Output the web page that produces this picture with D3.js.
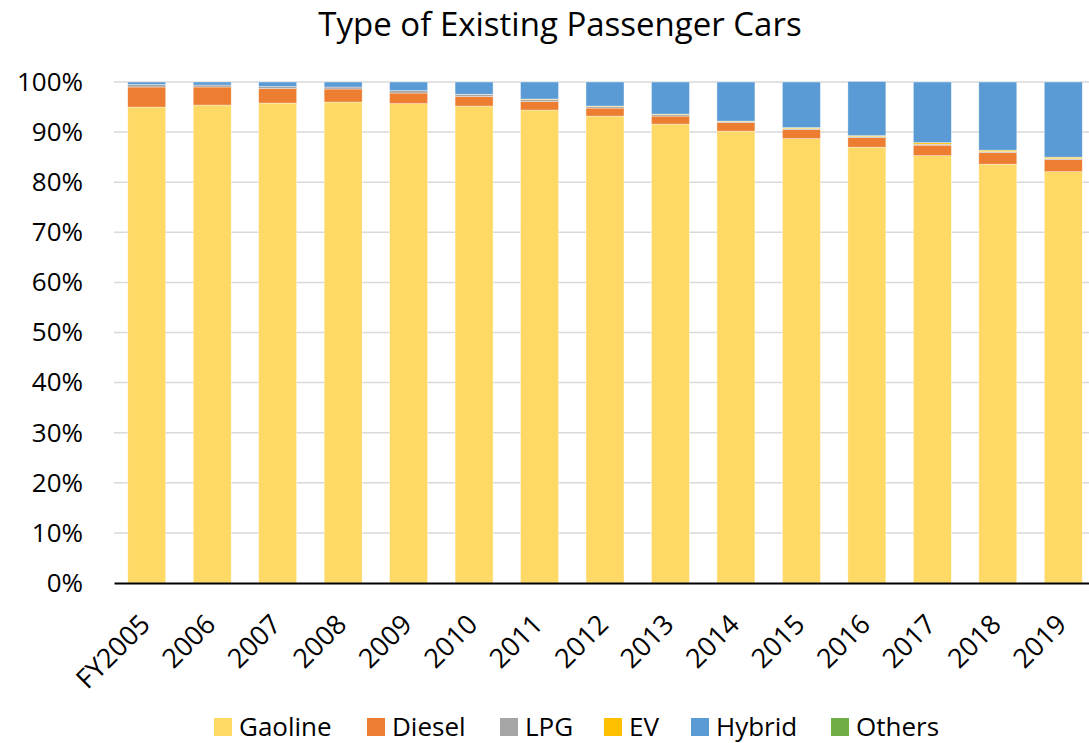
<!DOCTYPE html>
<html lang="en">
<head>
    <meta charset="UTF-8">
    <title>Type of Existing Passenger Cars</title>
    <script src="https://d3js.org/d3.v7.min.js"></script>
    <style>
        body {
            margin: 0;
            padding: 0;
            background-color: white;
            font-family: "Open Sans", Lato, Arial, sans-serif;
        }
        #chart svg {
            display: block;
        }
    </style>
</head>
<body>
    <div id="chart"></div>

    <script>
        // Data (percent of existing passenger cars)
        const years = ['FY2005', '2006', '2007', '2008', '2009', '2010', '2011', '2012',
                       '2013', '2014', '2015', '2016', '2017', '2018', '2019'];
        const gasoline = [95.0, 95.4, 95.8, 96.0, 95.7, 95.2, 94.4, 93.2, 91.6, 90.2, 88.7, 87.0, 85.3, 83.6, 82.1];
        const diesel   = [4.0, 3.6, 2.9, 2.6, 2.1, 1.9, 1.7, 1.6, 1.6, 1.7, 1.8, 1.9, 2.1, 2.3, 2.4];
        const lpg      = [0.5, 0.4, 0.4, 0.4, 0.5, 0.4, 0.4, 0.3, 0.3, 0.2, 0.2, 0.2, 0.2, 0.2, 0.2];
        const ev       = [0, 0, 0, 0, 0, 0.05, 0.1, 0.1, 0.1, 0.1, 0.2, 0.2, 0.3, 0.3, 0.3];
        const hybrid   = [0.5, 0.6, 0.9, 1.0, 1.7, 2.45, 3.4, 4.8, 6.4, 7.8, 9.1, 10.8, 12.1, 13.6, 15.0];
        const others   = [0, 0, 0, 0, 0, 0, 0, 0, 0, 0, 0, 0, 0, 0, 0];
        const yTicks = [0, 10, 20, 30, 40, 50, 60, 70, 80, 90, 100];

        const seriesNames = ['Gaoline', 'Diesel', 'LPG', 'EV', 'Hybrid', 'Others'];
        const seriesValues = [gasoline, diesel, lpg, ev, hybrid, others];
        const colors = ['#FFD966', '#ED7D31', '#A5A5A5', '#FFC000', '#5B9BD5', '#70AD47'];

        const width = 1089;
        const height = 743;
        const margin = { top: 82, left: 114, bottom: 160 };
        const plotRight = 1096;  // the reference is cropped on the right edge
        const font = '"Open Sans", Lato, Arial, sans-serif';

        const rows = years.map((y, i) => {
            const row = { year: y };
            seriesNames.forEach((s, j) => row[s] = seriesValues[j][i]);
            return row;
        });

        const stacked = d3.stack().keys(seriesNames)(rows);

        const svg = d3.select('#chart')
            .append('svg')
            .attr('width', width)
            .attr('height', height)
            .attr('font-family', font);

        const x = d3.scaleBand()
            .domain(years)
            .range([margin.left, plotRight])
            .paddingInner(0.42)
            .paddingOuter(0.21);

        const y = d3.scaleLinear()
            .domain([0, 100])
            .range([height - margin.bottom, margin.top]);

        // gridlines
        svg.append('g')
            .selectAll('line')
            .data(yTicks.filter(t => t > 0))
            .enter()
            .append('line')
            .attr('x1', margin.left)
            .attr('x2', plotRight)
            .attr('y1', d => y(d))
            .attr('y2', d => y(d))
            .attr('stroke', '#d9d9d9')
            .attr('stroke-width', 1.5);

        // bars
        const color = d3.scaleOrdinal().domain(seriesNames).range(colors);
        svg.append('g')
            .selectAll('g')
            .data(stacked)
            .enter()
            .append('g')
            .attr('fill', d => color(d.key))
            .selectAll('rect')
            .data(d => d)
            .enter()
            .append('rect')
            .attr('x', d => x(d.data.year))
            .attr('width', x.bandwidth())
            .attr('y', d => y(d[1]))
            .attr('height', d => Math.max(0, y(d[0]) - y(d[1])))
            .attr('stroke', 'rgba(255,255,255,0.6)')
            .attr('stroke-width', 0.6);

        // y axis labels
        const yAxis = d3.axisLeft(y)
            .tickValues(yTicks)
            .tickFormat(d => d + '%')
            .tickSize(0)
            .tickPadding(31);
        const yg = svg.append('g')
            .attr('transform', `translate(${margin.left},0)`)
            .call(yAxis);
        yg.select('.domain').remove();
        yg.selectAll('text')
            .attr('font-family', font)
            .attr('font-size', 26)
            .attr('fill', '#000');

        // x axis
        const xAxis = d3.axisBottom(x).tickSize(0).tickPadding(0);
        const xg = svg.append('g')
            .attr('transform', `translate(0,${y(0)})`)
            .call(xAxis);
        xg.select('.domain')
            .attr('stroke', '#000')
            .attr('stroke-width', 2);
        xg.selectAll('text')
            .attr('font-family', font)
            .attr('font-size', 27)
            .attr('fill', '#000')
            .attr('text-anchor', 'end')
            .attr('y', 0)
            .attr('dy', 0)
            .attr('transform', 'translate(5,43) rotate(-45)');

        // title
        svg.append('text')
            .attr('x', 560)
            .attr('y', 36)
            .attr('text-anchor', 'middle')
            .attr('font-size', 33)
            .attr('fill', '#000')
            .text('Type of Existing Passenger Cars');

        // legend
        const legendX = [214, 367, 500, 604, 691, 831];
        const legend = svg.append('g')
            .selectAll('g')
            .data(seriesNames)
            .enter()
            .append('g')
            .attr('transform', (d, i) => `translate(${legendX[i]},727)`);
        legend.append('rect')
            .attr('x', 0)
            .attr('y', -9)
            .attr('width', 18)
            .attr('height', 18)
            .attr('fill', d => color(d));
        legend.append('text')
            .attr('x', 25)
            .attr('y', 0)
            .attr('dy', '0.35em')
            .attr('font-size', 26)
            .attr('fill', '#000')
            .text(d => d);
    </script>
</body>
</html>
